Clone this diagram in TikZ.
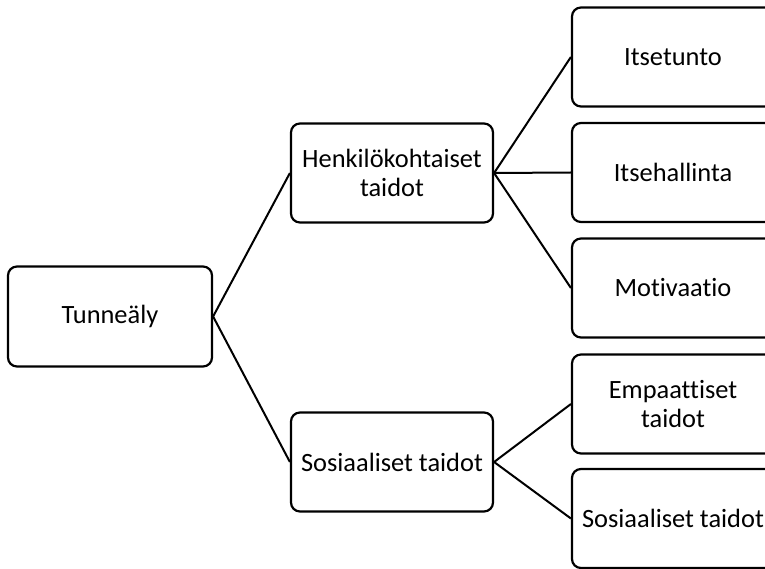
\documentclass[tikz,border=0pt]{standalone}
\usepackage{fontspec}
\setmainfont{Carlito}[Ligatures=NoCommon]
\begin{document}
\begin{tikzpicture}[x=1pt,y=-1pt,
  box/.style={draw=black,line width=2.2pt,rounded corners=9pt,fill=white,
    minimum width=202pt,minimum height=99pt,align=center,inner sep=2pt,
    font=\fontsize{26.4}{29.5}\selectfont},
  link/.style={draw=black,line width=2pt}]
\useasboundingbox (0,0) rectangle (765,569);
\clip (0,0) rectangle (765,569);
\node[box,minimum width=204pt,minimum height=100pt] (root) at (110,316.5) {Tunneäly};
\node[box] (henk) at (392,173) {Henkilökohtaiset\\taidot};
\node[box] (sos) at (392,462) {Sosiaaliset taidot};
\node[box] (it) at (673,57) {Itsetunto};
\node[box] (ih) at (673,172.5) {Itsehallinta};
\node[box] (mo) at (673,288) {Motivaatio};
\node[box] (em) at (673,404) {Empaattiset\\taidot};
\node[box] (so2) at (673,518.5) {Sosiaaliset taidot};
\draw[link] (root.east) -- (henk.west);
\draw[link] (root.east) -- (sos.west);
\draw[link] (henk.east) -- (it.west);
\draw[link] (henk.east) -- (ih.west);
\draw[link] (henk.east) -- (mo.west);
\draw[link] (sos.east) -- (em.west);
\draw[link] (sos.east) -- (so2.west);
\end{tikzpicture}
\end{document}
